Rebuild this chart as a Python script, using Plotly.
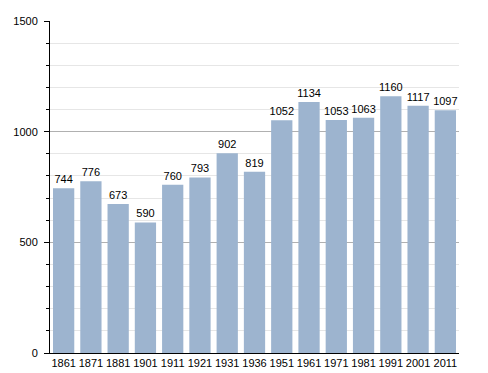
import plotly.graph_objects as go

years = ["1861", "1871", "1881", "1901", "1911", "1921", "1931", "1936",
         "1951", "1961", "1971", "1981", "1991", "2001", "2011"]
population = [744, 776, 673, 590, 760, 793, 902, 819,
              1052, 1134, 1053, 1063, 1160, 1117, 1097]

fig = go.Figure(go.Bar(
    x=years, y=population,
    marker=dict(color="#9db4cf", line=dict(width=0)),
    text=[str(v) for v in population],
    textposition="outside",
    constraintext="none",
    textfont=dict(family="Liberation Sans, Arial, sans-serif", size=11, color="#000"),
    cliponaxis=False,
))

# page body has an 8px margin, so the figure is sized to fit inside the window
fig.update_layout(
    width=480, height=365,
    margin=dict(l=42, r=29, t=13, b=20, autoexpand=False),
    paper_bgcolor="white", plot_bgcolor="white",
    bargap=0.22,
    showlegend=False,
    font=dict(family="Liberation Sans, Arial, sans-serif", size=11, color="#000"),
    xaxis=dict(
        type="category",
        automargin=False,
        showline=True, linecolor="#000", linewidth=1,
        ticks="", showgrid=False,
        tickfont=dict(size=11),
        fixedrange=True,
    ),
    yaxis=dict(
        range=[0, 1500],
        automargin=False,
        tickvals=[0, 500, 1000, 1500],
        showline=True, linecolor="#000", linewidth=1,
        ticks="outside", ticklen=5, tickcolor="#000",
        ticklabelstandoff=4,
        showgrid=True, gridcolor="#b0b0b0", gridwidth=1,
        zeroline=False,
        minor=dict(dtick=100, ticks="outside", ticklen=3, tickcolor="#000",
                   showgrid=True, gridcolor="#e6e6e6"),
        tickfont=dict(size=11),
        fixedrange=True,
    ),
)

fig.write_html("out.html")
